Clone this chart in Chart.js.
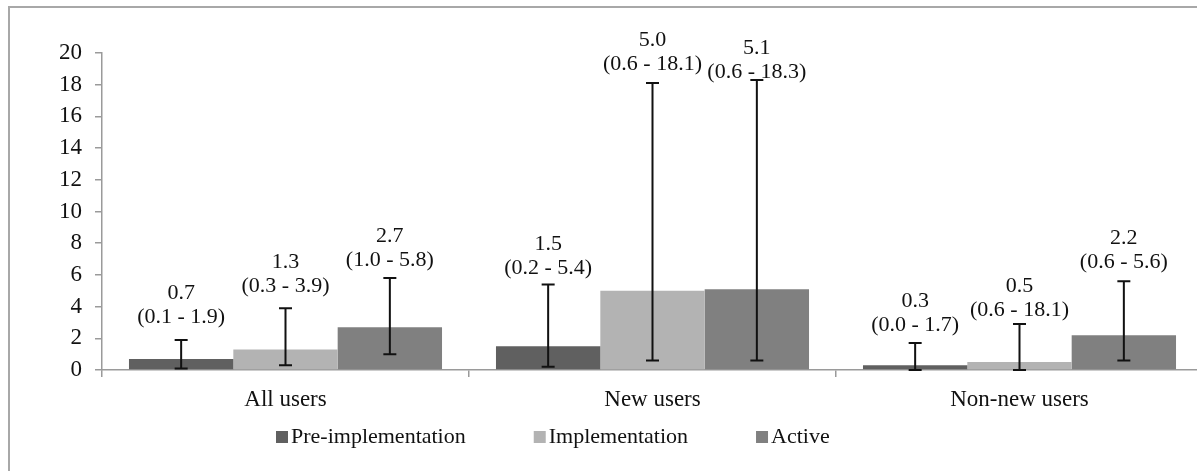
<!DOCTYPE html>
<html>
<head>
<meta charset="utf-8">
<script src="https://cdn.jsdelivr.net/npm/chart.js@4.4.1/dist/chart.umd.min.js"></script>
<style>
  html, body { margin: 0; padding: 0; background: #fff; overflow: hidden; width: 1197px; height: 471px; }
  #frame { position: absolute; left: 8px; top: 6px; width: 1300px; height: 600px;
           border-left: 2px solid #a8a8a8; border-top: 2px solid #a8a8a8; }
  #wrap { position: absolute; left: 0; top: 0; width: 1230px; height: 471px; }
</style>
</head>
<body>
<div id="frame"></div>
<div id="wrap"><canvas id="c" width="1230" height="471"></canvas></div>
<script>
// Categories and series
const categories = ['All users', 'New users', 'Non-new users'];
const seriesNames = ['Pre-implementation', 'Implementation', 'Active'];

// Point estimates per group
const preValues    = [0.7, 1.5, 0.3];
const implValues   = [1.3, 5.0, 0.5];
const activeValues = [2.7, 5.1, 2.2];

// Whisker ranges
const preLow     = [0.1, 0.2, 0.0];
const preHigh    = [1.9, 5.4, 1.7];
const implLow    = [0.3, 0.6, 0.0];
const implHigh   = [3.9, 18.1, 2.9];
const activeLow  = [1.0, 0.6, 0.6];
const activeHigh = [5.8, 18.3, 5.6];

// Printed confidence intervals
const preCI    = ['(0.1 - 1.9)', '(0.2 - 5.4)', '(0.0 - 1.7)'];
const implCI   = ['(0.3 - 3.9)', '(0.6 - 18.1)', '(0.6 - 18.1)'];
const activeCI = ['(1.0 - 5.8)', '(0.6 - 18.3)', '(0.6 - 5.6)'];

// Value axis ticks
const yTicks = [0, 2, 4, 6, 8, 10, 12, 14, 16, 18, 20];

const FONT = "'Liberation Serif', 'Times New Roman', serif";
const AXIS_GREY = '#9a9a9a';

// Whiskers plus two-line value labels above each bar
const errorBarPlugin = {
  id: 'errorBars',
  afterDatasetsDraw(chart, args, opts) {
    const ctx = chart.ctx;
    const y = chart.scales.y;
    ctx.save();
    chart.data.datasets.forEach((ds, i) => {
      const meta = chart.getDatasetMeta(i);
      meta.data.forEach((bar, j) => {
        const x = bar.x;
        const yHi = y.getPixelForValue(ds.errHigh[j]);
        const yLo = y.getPixelForValue(ds.errLow[j]);
        ctx.strokeStyle = '#111';
        ctx.lineWidth = 2;
        ctx.beginPath();
        ctx.moveTo(x, yHi); ctx.lineTo(x, yLo);
        ctx.moveTo(x - 6.5, yHi); ctx.lineTo(x + 6.5, yHi);
        ctx.moveTo(x - 6.5, yLo); ctx.lineTo(x + 6.5, yLo);
        ctx.stroke();

        const lift = opts.lift[i][j];
        ctx.fillStyle = '#111';
        ctx.font = '22px ' + FONT;
        ctx.textAlign = 'center';
        ctx.textBaseline = 'middle';
        ctx.fillText(ds.ciText[j], x, yHi - lift);
        ctx.fillText(ds.data[j].toFixed(1), x, yHi - lift - 24);
      });
    });
    ctx.restore();
  }
};

// Square-swatch legend row under the axis labels
const legendPlugin = {
  id: 'rowLegend',
  afterDraw(chart, args, opts) {
    const ctx = chart.ctx;
    ctx.save();
    ctx.font = '22px ' + FONT;
    ctx.textBaseline = 'middle';
    ctx.textAlign = 'left';
    let x = opts.x;
    chart.data.datasets.forEach(ds => {
      ctx.fillStyle = ds.backgroundColor;
      ctx.fillRect(x, opts.y - 6, 12, 12);
      ctx.fillStyle = '#111';
      ctx.fillText(ds.label, x + 15, opts.y);
      x += 15 + ctx.measureText(ds.label).width + opts.gap;
    });
    ctx.restore();
  }
};

const common = { categoryPercentage: 0.853, barPercentage: 1.0, borderWidth: 0 };

new Chart(document.getElementById('c').getContext('2d'), {
  type: 'bar',
  data: {
    labels: categories,
    datasets: [
      Object.assign({ label: seriesNames[0], data: preValues, backgroundColor: '#606060',
        errLow: preLow, errHigh: preHigh, ciText: preCI }, common),
      Object.assign({ label: seriesNames[1], data: implValues, backgroundColor: '#b3b3b3',
        errLow: implLow, errHigh: implHigh, ciText: implCI }, common),
      Object.assign({ label: seriesNames[2], data: activeValues, backgroundColor: '#808080',
        errLow: activeLow, errHigh: activeHigh, ciText: activeCI }, common)
    ]
  },
  options: {
    responsive: false,
    animation: false,
    layout: { padding: { left: 0, right: 27, top: 53, bottom: 0 } },
    plugins: {
      legend: { display: false },
      tooltip: { enabled: false },
      errorBars: { lift: [[23, 16, 18], [22, 19, 14], [18, 8, 19]] },
      rowLegend: { x: 276, y: 437, gap: 68 }
    },
    scales: {
      x: {
        grid: { display: true, drawOnChartArea: false, tickLength: 7, color: AXIS_GREY, lineWidth: 1.5, offset: true },
        border: { color: AXIS_GREY, width: 1.5 },
        ticks: { font: { family: FONT, size: 23 }, color: '#111', padding: 9 },
        afterFit(s) { s.height = 101; }
      },
      y: {
        min: 0, max: 20,
        afterBuildTicks(s) { s.ticks = yTicks.map(v => ({ value: v })); },
        grid: { drawOnChartArea: false, tickLength: 7, color: AXIS_GREY, lineWidth: 1.5 },
        border: { color: AXIS_GREY, width: 1.5 },
        ticks: { font: { family: FONT, size: 23 }, color: '#111', padding: 13 },
        afterFit(s) { s.width = 102; }
      }
    }
  },
  plugins: [errorBarPlugin, legendPlugin]
});
</script>
</body>
</html>
